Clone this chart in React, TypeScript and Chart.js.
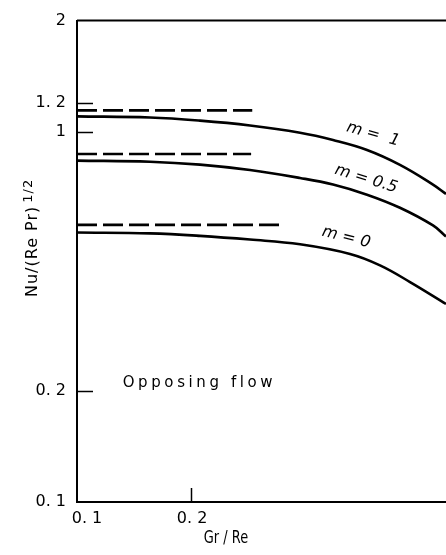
import React, { useEffect, useRef } from "react";
import { Chart, registerables } from "chart.js";

Chart.register(...registerables);

// Gr/Re values (x) and Nu/(Re Pr)^1/2 values (y) for each curve
const grM1 = [0.1, 0.1558, 0.2111, 0.2861, 0.3877, 0.4737, 0.5823, 0.7114, 0.8695, 0.941];
const nuM1 = [1.102, 1.094, 1.073, 1.041, 0.995, 0.951, 0.894, 0.815, 0.721, 0.68];

const grM05 = [0.1, 0.1558, 0.2111, 0.2861, 0.3877, 0.4737, 0.5823, 0.7114, 0.8695, 0.941];
const nuM05 = [0.837, 0.831, 0.816, 0.789, 0.751, 0.721, 0.677, 0.624, 0.559, 0.522];

const grM0 = [0.1, 0.1558, 0.2111, 0.2861, 0.3877, 0.5252, 0.6302, 0.7563, 0.941];
const nuM0 = [0.535, 0.532, 0.524, 0.512, 0.497, 0.468, 0.436, 0.393, 0.343];

// dashed asymptotes
const asymM1X = [0.1, 0.29];
const asymM1Y = [1.144, 1.144];
const asymM05X = [0.1, 0.288];
const asymM05Y = [0.872, 0.872];
const asymM0X = [0.1, 0.348];
const asymM0Y = [0.561, 0.561];

// axes
const yTicks = [0.1, 0.2, 1, 1.2, 2];
const yTickLabels = ["0. 1", "0. 2", "1", "1. 2", "2"];
const yInnerTicks = [0.2, 1, 1.2];
const xTicks = [0.1, 0.2];
const xTickLabels = ["0. 1", "0. 2"];
const xInnerTicks = [0.2];

const xTitle = "Gr / Re";
const yTitleMain = "Nu/(Re Pr)";
const yTitleSup = "1/2";

// curve labels (data coordinates, rotation degrees)
const curveLabels = ["m =  1", "m = 0.5", "m = 0"];
const curveLabelX = [0.604, 0.579, 0.513];
const curveLabelY = [0.985, 0.746, 0.519];
const curveLabelAngle = [16, 17, 14];

const noteText = "Opposing flow";
const noteX = 0.132;
const noteY = 0.21;

const toPts = (xs: number[], ys: number[]) => xs.map((x, i) => ({ x, y: ys[i] }));

const TICK_FONT = "'DejaVu Sans', sans-serif";

const decorPlugin = {
  id: "decor",
  afterDraw(chart: any) {
    const { ctx, chartArea, scales } = chart;
    const xs = scales.x;
    const ys = scales.y;
    ctx.save();
    ctx.strokeStyle = "#000";
    ctx.fillStyle = "#000";
    // top frame line
    ctx.lineWidth = 2;
    ctx.beginPath();
    ctx.moveTo(chartArea.left, chartArea.top);
    ctx.lineTo(chartArea.right, chartArea.top);
    ctx.stroke();
    // inner ticks
    ctx.lineWidth = 1.5;
    yInnerTicks.forEach((v) => {
      const py = Math.round(ys.getPixelForValue(v)) + 0.5;
      ctx.beginPath();
      ctx.moveTo(chartArea.left, py);
      ctx.lineTo(chartArea.left + 16, py);
      ctx.stroke();
    });
    xInnerTicks.forEach((v) => {
      const px = Math.round(xs.getPixelForValue(v)) + 0.5;
      ctx.beginPath();
      ctx.moveTo(px, chartArea.bottom);
      ctx.lineTo(px, chartArea.bottom - 14);
      ctx.stroke();
    });
    // x tick labels
    ctx.font = `16px ${TICK_FONT}`;
    ctx.textAlign = "center";
    ctx.textBaseline = "middle";
    const xLabelShift = [10, 1];
    xTicks.forEach((v, i) => {
      ctx.fillText(xTickLabels[i], xs.getPixelForValue(v) + xLabelShift[i], chartArea.bottom + 17);
    });
    // curve labels
    ctx.font = `italic 16px ${TICK_FONT}`;
    curveLabels.forEach((t, i) => {
      ctx.save();
      ctx.translate(xs.getPixelForValue(curveLabelX[i]), ys.getPixelForValue(curveLabelY[i]));
      ctx.rotate((curveLabelAngle[i] * Math.PI) / 180);
      ctx.fillText(t, 0, 0);
      ctx.restore();
    });
    // note
    ctx.save();
    ctx.font = `15px ${TICK_FONT}`;
    (ctx as any).letterSpacing = "3.6px";
    ctx.textAlign = "left";
    ctx.textBaseline = "middle";
    ctx.fillText(noteText, xs.getPixelForValue(noteX), ys.getPixelForValue(noteY));
    ctx.restore();
    // x title
    ctx.save();
    ctx.translate(226, 538);
    ctx.scale(0.72, 1);
    ctx.font = `18px ${TICK_FONT}`;
    ctx.textAlign = "center";
    ctx.textBaseline = "middle";
    ctx.fillText(xTitle, 0, 0);
    ctx.restore();
    // y title
    ctx.save();
    ctx.translate(33, 297);
    ctx.rotate(-Math.PI / 2);
    ctx.font = `16px ${TICK_FONT}`;
    (ctx as any).letterSpacing = "1px";
    ctx.textAlign = "left";
    ctx.textBaseline = "middle";
    ctx.fillText(yTitleMain, 0, 0);
    const w = ctx.measureText(yTitleMain).width;
    ctx.font = `13px ${TICK_FONT}`;
    ctx.fillText(yTitleSup, w + 3, -4);
    ctx.restore();
    ctx.restore();
  },
};

export default function App() {
  const ref = useRef<HTMLCanvasElement | null>(null);
  useEffect(() => {
    if (!ref.current) return;
    const solid = { borderColor: "#000", borderWidth: 2.6, pointRadius: 0, fill: false, tension: 0.4 };
    const dashed = { borderColor: "#000", borderWidth: 2.6, pointRadius: 0, fill: false, borderDash: [20, 6] };
    const chart = new Chart(ref.current, {
      type: "line",
      data: {
        datasets: [
          { ...solid, label: "m = 1", data: toPts(grM1, nuM1) },
          { ...solid, label: "m = 0.5", data: toPts(grM05, nuM05) },
          { ...solid, label: "m = 0", data: toPts(grM0, nuM0) },
          { ...dashed, label: "m = 1 asymptote", data: toPts(asymM1X, asymM1Y) },
          { ...dashed, label: "m = 0.5 asymptote", data: toPts(asymM05X, asymM05Y) },
          { ...dashed, label: "m = 0 asymptote", data: toPts(asymM0X, asymM0Y) },
        ] as any,
      },
      options: {
        animation: false,
        responsive: false,
        devicePixelRatio: 1,
        layout: { padding: { top: 16, right: 0, left: 0, bottom: 0 } },
        plugins: { legend: { display: false }, tooltip: { enabled: false }, title: { display: false } },
        scales: {
          x: {
            type: "logarithmic",
            min: 0.1,
            max: 0.941,
            grid: { display: false, drawTicks: false },
            border: { display: true, color: "#000", width: 2 },
            afterBuildTicks: (s: any) => {
              s.ticks = xTicks.map((v) => ({ value: v }));
            },
            afterFit: (s: any) => {
              s.height = 53;
            },
            ticks: { display: false },
          },
          y: {
            type: "logarithmic",
            min: 0.1,
            max: 2,
            grid: { display: false, drawTicks: false },
            border: { display: true, color: "#000", width: 2 },
            afterBuildTicks: (s: any) => {
              s.ticks = yTicks.map((v) => ({ value: v }));
            },
            afterFit: (s: any) => {
              s.width = 77;
            },
            ticks: {
              autoSkip: false,
              padding: 11,
              color: "#000",
              font: { family: TICK_FONT, size: 16 },
              callback: (_v: any, i: number) => yTickLabels[i],
            },
          },
        },
      } as any,
      plugins: [decorPlugin],
    });
    return () => chart.destroy();
  }, []);
  return (
    <div style={{ position: "fixed", left: 0, top: 0, width: 446, height: 555, background: "#fff" }}>
      <canvas ref={ref} width={446} height={555} style={{ display: "block" }} />
    </div>
  );
}
